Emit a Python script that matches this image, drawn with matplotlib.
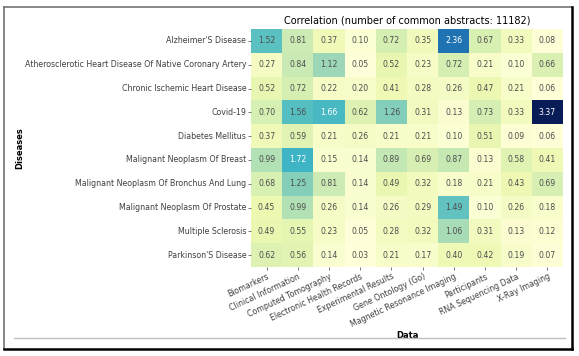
import matplotlib
matplotlib.use("Agg")
import matplotlib.pyplot as plt
from matplotlib.lines import Line2D
import numpy as np
import seaborn as sns

diseases = [
    "Alzheimer'S Disease",
    "Atherosclerotic Heart Disease Of Native Coronary Artery",
    "Chronic Ischemic Heart Disease",
    "Covid-19",
    "Diabetes Mellitus",
    "Malignant Neoplasm Of Breast",
    "Malignant Neoplasm Of Bronchus And Lung",
    "Malignant Neoplasm Of Prostate",
    "Multiple Sclerosis",
    "Parkinson'S Disease",
]

data_types = [
    "Biomarkers",
    "Clinical Information",
    "Computed Tomography",
    "Electronic Health Records",
    "Experimental Results",
    "Gene Ontology (Go)",
    "Magnetic Resonance Imaging",
    "Participants",
    "RNA Sequencing Data",
    "X-Ray Imaging",
]

alzheimers = [1.52, 0.81, 0.37, 0.10, 0.72, 0.35, 2.36, 0.67, 0.33, 0.08]
atherosclerotic = [0.27, 0.84, 1.12, 0.05, 0.52, 0.23, 0.72, 0.21, 0.10, 0.66]
chronic_ischemic = [0.52, 0.72, 0.22, 0.20, 0.41, 0.28, 0.26, 0.47, 0.21, 0.06]
covid = [0.70, 1.56, 1.66, 0.62, 1.26, 0.31, 0.13, 0.73, 0.33, 3.37]
diabetes = [0.37, 0.59, 0.21, 0.26, 0.21, 0.21, 0.10, 0.51, 0.09, 0.06]
breast = [0.99, 1.72, 0.15, 0.14, 0.89, 0.69, 0.87, 0.13, 0.58, 0.41]
lung = [0.68, 1.25, 0.81, 0.14, 0.49, 0.32, 0.18, 0.21, 0.43, 0.69]
prostate = [0.45, 0.99, 0.26, 0.14, 0.26, 0.29, 1.49, 0.10, 0.26, 0.18]
sclerosis = [0.49, 0.55, 0.23, 0.05, 0.28, 0.32, 1.06, 0.31, 0.13, 0.12]
parkinsons = [0.62, 0.56, 0.14, 0.03, 0.21, 0.17, 0.40, 0.42, 0.19, 0.07]

values = np.array([alzheimers, atherosclerotic, chronic_ischemic, covid, diabetes,
                   breast, lung, prostate, sclerosis, parkinsons])

fig = plt.figure(figsize=(5.79, 3.56), dpi=100)
ax = fig.add_axes([0.4335, 0.25, 0.539, 0.6685])

sns.heatmap(values, ax=ax, cmap="YlGnBu", annot=True, fmt=".2f", cbar=False,
            annot_kws={"fontsize": 5.6}, xticklabels=data_types,
            yticklabels=diseases)

# soften annotation colour a bit like the reference
for t in ax.texts:
    if t.get_color() != "w":
        t.set_color("0.3")

ax.set_title("Correlation (number of common abstracts: 11182)", fontsize=7, pad=4)
ax.set_xlabel("Data", fontsize=6, fontweight="bold")
ax.set_ylabel("Diseases", fontsize=6, fontweight="bold")
ax.tick_params(axis="both", labelsize=5.7, length=2, width=0.5, pad=1.5, colors="0.25")
plt.setp(ax.get_xticklabels(), rotation=25, ha="right", rotation_mode="anchor")
plt.setp(ax.get_yticklabels(), rotation=0)
ax.yaxis.set_label_coords(-0.725, 0.5)
ax.xaxis.set_label_coords(0.5, -0.27)

# screenshot frame
fig.add_artist(Line2D([0.007, 0.007], [0.02, 0.98], color="0.45", lw=1.2))
fig.add_artist(Line2D([0.007, 0.988], [0.98, 0.98], color="0.45", lw=1.2))
fig.add_artist(Line2D([0.988, 0.988], [0.02, 0.98], color="black", lw=1.8))
fig.add_artist(Line2D([0.007, 0.988], [0.02, 0.02], color="black", lw=1.8))
fig.add_artist(Line2D([0.024, 0.976], [0.051, 0.051], color="0.75", lw=1.0))

fig.savefig("out.png", dpi=100)
